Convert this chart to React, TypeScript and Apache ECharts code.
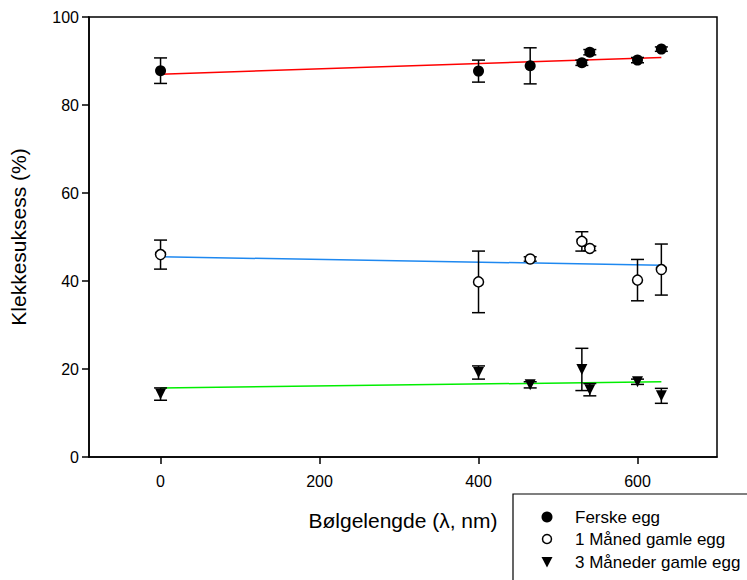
import React, { useEffect, useRef } from "react";
import * as echarts from "echarts";

const wavelengths = [0, 400, 465, 530, 540, 600, 630];
const ferskeMean = [87.8, 87.7, 88.9, 89.6, 92.0, 90.2, 92.7];
const ferskeErr = [2.9, 2.5, 4.1, 0.6, 0.6, 0.6, 0.5];
const maned1Mean = [46.0, 39.8, 45.0, 49.0, 47.4, 40.2, 42.6];
const maned1Err = [3.3, 7.0, 0.5, 2.2, 0.5, 4.7, 5.8];
const maned3Mean = [14.3, 19.2, 16.4, 19.9, 15.3, 17.1, 13.9];
const maned3Err = [1.4, 1.5, 0.7, 4.8, 1.4, 0.6, 1.7];

const ferskeFit = [[0, 87.0], [630, 90.8]];
const maned1Fit = [[0, 45.5], [630, 43.6]];
const maned3Fit = [[0, 15.7], [630, 17.1]];

const xTicks = [0, 200, 400, 600];
const seriesNames = ["Ferske egg", "1 Måned gamle egg", "3 Måneder gamle egg"];

const FONT = 'Arial, "Liberation Sans", sans-serif';

function pts(mean: number[]) {
  return wavelengths.map((x, i) => [x, mean[i]]);
}
function errData(mean: number[], err: number[]) {
  return wavelengths.map((x, i) => [x, mean[i] - err[i], mean[i] + err[i]]);
}

function errorSeries(data: number[][]) {
  return {
    type: "custom",
    silent: true,
    z: 3,
    renderItem: (params: any, api: any) => {
      const x = api.value(0);
      const lo = api.coord([x, api.value(1)]);
      const hi = api.coord([x, api.value(2)]);
      const hw = 6.5;
      const st = { stroke: "#000", lineWidth: 1.5 };
      return {
        type: "group",
        children: [
          { type: "line", shape: { x1: lo[0], y1: lo[1], x2: hi[0], y2: hi[1] }, style: st },
          { type: "line", shape: { x1: lo[0] - hw, y1: lo[1], x2: lo[0] + hw, y2: lo[1] }, style: st },
          { type: "line", shape: { x1: hi[0] - hw, y1: hi[1], x2: hi[0] + hw, y2: hi[1] }, style: st },
        ],
      };
    },
    data,
  };
}

function fitSeries(data: number[][], color: string) {
  return {
    type: "line",
    data,
    symbol: "none",
    silent: true,
    z: 2,
    lineStyle: { color, width: 1.5 },
  };
}

export default function App() {
  const ref = useRef<HTMLDivElement>(null);
  useEffect(() => {
    if (!ref.current) return;
    const chart = echarts.init(ref.current, null, { renderer: "svg" });
    const legendX = 547;
    const legendTextX = 575;
    const rows = [517, 539, 562];
    chart.setOption({
      animation: false,
      backgroundColor: "#fff",
      grid: {
        left: 89,
        top: 17,
        right: 30,
        bottom: 123,
        show: true,
        borderColor: "#000",
        borderWidth: 1.5,
      },
      xAxis: {
        type: "value",
        min: -90,
        max: 700,
        name: "Bølgelengde (λ, nm)",
        nameLocation: "middle",
        nameGap: 53,
        nameTextStyle: { fontFamily: FONT, fontSize: 21, color: "#000" },
        axisLine: { show: true, onZero: false, lineStyle: { color: "#000", width: 1.5 } },
        axisTick: { show: true, length: 7, customValues: xTicks, lineStyle: { color: "#000", width: 1.5 } },
        axisLabel: { customValues: xTicks, fontFamily: FONT, fontSize: 16, color: "#000", margin: 16 },
        splitLine: { show: false },
      },
      yAxis: {
        type: "value",
        min: 0,
        max: 100,
        interval: 20,
        name: "Klekkesuksess (%)",
        nameLocation: "middle",
        nameGap: 60,
        nameTextStyle: { fontFamily: FONT, fontSize: 21, color: "#000" },
        axisLine: { show: true, onZero: false, lineStyle: { color: "#000", width: 1.5 } },
        axisTick: { show: true, length: 7, lineStyle: { color: "#000", width: 1.5 } },
        axisLabel: { fontFamily: FONT, fontSize: 16, color: "#000", margin: 10 },
        splitLine: { show: false },
      },
      series: [
        fitSeries(ferskeFit, "#ff0000"),
        fitSeries(maned1Fit, "#1e88f0"),
        fitSeries(maned3Fit, "#00ee00"),
        errorSeries(errData(ferskeMean, ferskeErr)),
        errorSeries(errData(maned1Mean, maned1Err)),
        errorSeries(errData(maned3Mean, maned3Err)),
        {
          name: seriesNames[0],
          type: "scatter",
          z: 4,
          data: pts(ferskeMean),
          symbol: "circle",
          symbolSize: 11,
          itemStyle: { color: "#000", opacity: 1 },
        },
        {
          name: seriesNames[1],
          type: "scatter",
          z: 4,
          data: pts(maned1Mean),
          symbol: "circle",
          symbolSize: 10,
          itemStyle: { color: "#fff", borderColor: "#000", borderWidth: 1.5, opacity: 1 },
        },
        {
          name: seriesNames[2],
          type: "scatter",
          z: 4,
          data: pts(maned3Mean),
          symbol: "triangle",
          symbolRotate: 180,
          symbolSize: 11,
          itemStyle: { color: "#000", opacity: 1 },
        },
      ],
      graphic: [
        {
          type: "rect",
          shape: { x: 513, y: 494, width: 260, height: 120 },
          style: { fill: "#fff", stroke: "#000", lineWidth: 1.2 },
          z: 10,
        },
        {
          type: "circle",
          shape: { cx: legendX, cy: rows[0], r: 5.5 },
          style: { fill: "#000" },
          z: 11,
        },
        {
          type: "circle",
          shape: { cx: legendX, cy: rows[1], r: 4.5 },
          style: { fill: "#fff", stroke: "#000", lineWidth: 1.5 },
          z: 11,
        },
        {
          type: "polygon",
          shape: { points: [[legendX - 5.5, rows[2] - 5], [legendX + 5.5, rows[2] - 5], [legendX, rows[2] + 5.5]] },
          style: { fill: "#000" },
          z: 11,
        },
        ...seriesNames.map((n, i) => ({
          type: "text",
          x: legendTextX,
          y: rows[i],
          z: 11,
          style: {
            text: n,
            fontFamily: FONT,
            fontSize: 17,
            fill: "#000",
            verticalAlign: "middle",
            align: "left",
          },
        })),
      ],
    });
    return () => chart.dispose();
  }, []);
  return (
    <div
      ref={ref}
      style={{ position: "fixed", left: 0, top: 0, width: 747, height: 580 }}
    />
  );
}
